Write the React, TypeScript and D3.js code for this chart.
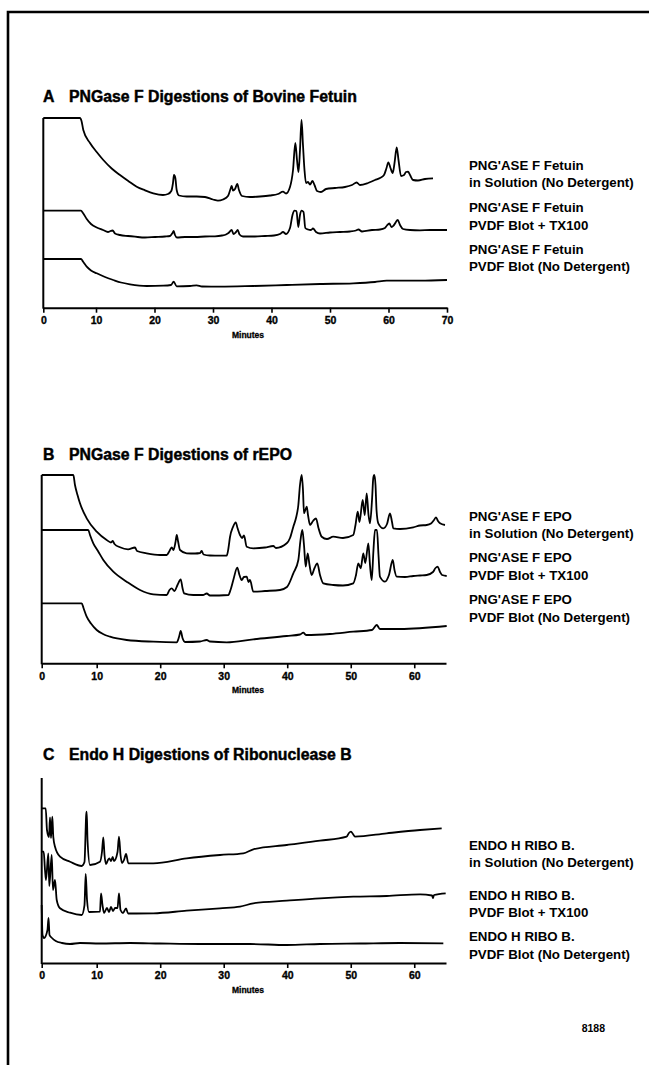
import { useEffect, useRef } from "react";
import * as d3 from "d3";

type Pt = [number, number];

// [minutes, detector response]
const fetuinSolution: Pt[] = [
  [0,189.7],[6.96,189.7],[7.25,186.7],[7.59,177.7],[8.86,164.7],[10.12,155.7],[11.25,147.7],[12.68,139.2],[14.1,132.7],
  [15.52,126.7],[16.96,121],[18.38,117.4],[19.8,114.4],[21.45,112.7],[22.31,113.7],[22.87,116.7],[23.16,124.7],[23.33,132.7],
  [23.56,129.7],[23.79,117.7],[24.19,112.2],[25.5,111.2],[27.21,111.2],[28.63,110.7],[30,108.2],[30.85,107],[31.71,108.2],
  [32.56,111.7],[32.99,118.7],[33.2,121.7],[33.42,117.2],[33.76,118.7],[34.15,123.7],[34.44,117.7],[34.96,111.7],[36.32,110.7],
  [38.03,111.2],[39.74,112.2],[41.11,113.7],[41.97,116],[42.48,114.2],[43.16,120.7],[43.68,137.7],[44.07,164.7],[44.36,147.7],
  [44.62,135.7],[44.87,157.7],[45.13,187.7],[45.38,162.7],[45.64,137.7],[45.9,124.7],[46.24,125.7],[46.58,123.2],[47.01,126.7],
  [47.35,122.7],[47.78,116.7],[48.46,115.7],[49.32,118.7],[50.85,119.7],[52.56,120.7],[53.76,122.7],[54.56,125.2],[55.13,122.7],
  [56.5,124.7],[57.69,127.7],[58.55,129.7],[59.23,132.7],[59.66,139.7],[59.97,145.4],[60.34,139.7],[60.72,134.7],[61.03,144.7],
  [61.4,160.4],[61.71,147.7],[62.14,131.7],[62.65,132.7],[62.99,135.7],[63.33,136],[63.68,132.7],[64.19,127.7],[65.04,127.2],
  [66.24,128.7],[67.61,129.4],
];
const fetuinTX100: Pt[] = [
  [0,97],[7.15,97],[7.53,94.7],[8.24,88.7],[9.05,83.7],[10.12,80.2],[11.2,77.7],[12.05,75.7],[12.48,76.7],[12.85,77.2],
  [13.25,74.2],[14.1,72.7],[15.47,71.7],[16.67,71],[18.38,70.2],[20.09,70.7],[21.79,71.2],[22.65,71.7],[23.08,74.7],[23.28,76.7],
  [23.5,72.7],[23.85,70.2],[25.21,70.7],[26.92,70.7],[28.63,71.2],[30.34,71.4],[31.54,72.2],[32.22,73.2],[32.65,74.7],[33.2,77.7],
  [33.5,73.7],[33.93,75.7],[34.22,77.7],[34.53,73.2],[35.13,71.2],[37.18,71.2],[38.89,71.7],[40.43,72.2],[41.45,73.7],[41.97,75.7],
  [42.48,73.7],[43.16,79.7],[43.59,92.7],[43.93,97],[44.27,96.7],[44.58,80.7],[44.87,92.7],[45.16,97],[45.47,95.7],[45.78,79.7],
  [46.24,78.2],[46.75,77.7],[47.09,79.2],[47.61,75.7],[48.29,74.2],[50,75.2],[51.71,75.7],[53.42,76.2],[54.44,77.2],[54.87,78.2],
  [55.47,76.2],[57.18,77.7],[58.55,78.2],[59.4,79.7],[59.74,82.2],[60.14,84.2],[60.51,80.7],[60.94,82.7],[61.57,87.7],[61.97,82.7],
  [62.48,78.7],[63.68,77.7],[65.38,77.4],[67.09,77.7],[70,77.7],
];
const fetuinBlot: Pt[] = [
  [0,48.7],[7.15,48.7],[7.53,46.2],[8.24,41],[9.05,37.2],[10.12,34.4],[11.54,30.7],[12.96,27.7],[14.27,25.2],[15.81,23.4],
  [18.67,21.7],[21.51,22],[22.82,22.7],[23.28,26],[23.79,21.4],[26.07,21.7],[27.21,22.4],[28.12,21.2],[31.2,21],[36.9,21.7],
  [42.6,22.7],[48.29,23.7],[53.98,24.4],[57.69,25.7],[59.69,27],[65.38,27],[70,27.7],
];

const epoSolution: Pt[] = [
  [0,188.3],[5.75,188.3],[6.05,178.3],[6.51,168.3],[6.96,160],[8.18,145],[10,131.6],[11.57,123.3],[12.25,120.8],[12.52,122.3],
  [12.8,119.3],[13.67,116],[14.93,114],[16.03,115.8],[16.35,112.3],[17.87,110],[19.97,108.3],[21.02,108.3],[21.46,112.3],
  [21.81,116],[22.09,113.3],[22.41,121.3],[22.6,128.3],[22.8,122.3],[23.12,113.3],[24.17,110],[25.48,109.8],[26.27,110.3],
  [26.53,112.3],[26.82,108.8],[27.84,107.8],[29.41,107.6],[30.47,107.6],[30.75,115.3],[30.99,126.3],[31.46,136.3],[31.89,141],
  [32.17,135.3],[32.56,128.3],[32.88,125.3],[33.19,127.8],[33.62,116.6],[34.66,115],[36.5,115.8],[37.81,117.3],[38.23,115.3],
  [39.92,120],[40.44,125.3],[40.96,136.6],[41.38,145.3],[41.75,158.3],[42.01,178.3],[42.28,188.3],[42.48,173.3],[42.64,150],
  [42.85,153.3],[43.07,156.6],[43.27,148.3],[43.59,138.3],[44.06,142.3],[44.53,145],[44.92,135.3],[45.43,126.6],[46.26,124.3],
  [47.25,126.6],[48.78,125.3],[50.4,128.3],[50.75,138.3],[51.1,151.6],[51.38,141.3],[51.88,163.3],[52.2,148.3],[52.51,170],
  [52.8,148.3],[53.03,140],[53.35,163.3],[53.55,185.3],[53.71,188.3],[53.9,178.3],[54.06,153.3],[54.34,140],[55.13,135],
  [55.71,139.3],[56.18,150],[56.5,141.3],[56.7,135],[57.76,134.3],[59.85,136],[60.91,137.8],[61.96,138.3],[62.64,139.8],
  [63.11,143.3],[63.43,146],[63.74,142.3],[64.06,140],[64.84,138.3],
];
const epoTX100: Pt[] = [
  [0,133.3],[8.47,133.3],[8.78,128.3],[9.38,120],[10.2,112.3],[11.04,103.3],[12.61,91.6],[14.72,81.6],[16.82,73.3],[18.91,69],
  [21.02,68.3],[21.46,73.3],[21.81,75],[22.25,72.3],[22.72,78.3],[23.23,84],[23.51,75.3],[23.75,70],[25.21,68.3],[26.74,68.3],
  [27.32,69.8],[27.84,67.8],[30.72,68.3],[31.07,73.3],[31.51,83.3],[32.14,95.6],[32.48,88.3],[32.83,83.3],[33.19,86.3],
  [33.62,86.6],[33.9,81.3],[34.14,83.3],[34.66,71.6],[36.5,72.3],[38.86,73.3],[39.96,76.3],[40.96,90],[41.75,103.3],[42.09,123.3],
  [42.38,133.3],[42.64,118.3],[42.91,96.6],[43.22,110],[43.51,98.3],[43.85,88.3],[44.3,95.3],[44.73,100],[45.16,88.3],[45.68,80],
  [47.25,78.3],[48.78,77.8],[50.4,80],[50.83,88.3],[51.19,100],[51.57,95],[51.98,110],[52.29,100.3],[52.77,120],[53.03,98.3],
  [53.3,83.3],[53.58,113.3],[53.82,133.3],[54.13,133.3],[54.37,108.3],[54.6,86.6],[55.39,81.6],[56.02,88.3],[56.61,103.3],
  [56.89,93.3],[57.24,86.6],[58.55,86.3],[59.85,87.3],[60.91,87.8],[61.96,88.3],[62.95,91.3],[63.35,95.3],[63.69,96.6],
  [64.06,91.3],[64.37,88.3],[65.11,87.3],
];
const epoBlot: Pt[] = [
  [0,60],[7.27,60],[7.6,55.3],[8.18,46.6],[8.96,39.8],[10,33.3],[10.99,29.3],[12.09,26.6],[14.72,23.3],[18.91,21.6],[22.6,21],
  [22.96,26.3],[23.23,32.3],[23.51,25.3],[23.9,21.3],[26.27,21.8],[27.32,23.3],[27.84,21.8],[30.47,21],[34.66,24],[39.92,27.3],
  [42.01,28.8],[42.53,30.6],[42.96,28.3],[46.73,29.3],[50.4,31.6],[53.35,33.3],[54.09,38.3],[54.6,34.3],[57.76,34.3],[65.11,37.3],
];

const riboSolution: Pt[] = [
  [0,154.7],[0.73,154.7],[0.96,133],[1.33,126],[1.51,145.7],[1.69,125],[1.93,146.3],[2.11,126],[2.42,116.3],[3.33,106.3],
  [5.15,101.3],[7.27,97],[7.78,101],[8.09,148],[8.18,151.3],[8.33,123],[8.78,98],[10.52,101.3],[10.83,111],[11.04,125.7],
  [11.23,108],[11.46,99],[11.78,103],[11.98,104.7],[12.25,102],[12.52,106],[12.72,102],[13.28,111],[13.51,126.3],[13.75,108],
  [13.99,100],[14.3,103],[14.62,109],[14.98,99.7],[18.91,99.7],[24.17,104.7],[29.41,108],[33.08,109.7],[34.66,113.7],
  [39.92,118],[45.16,122.3],[49.36,126.3],[49.72,130],[50.04,131.3],[50.35,129],[50.67,126.3],[55.66,129.7],[60.91,133],
  [64.32,134.7],
];
const riboTX100: Pt[] = [
  [0,111.3],[0.36,111.3],[0.6,93],[0.78,83],[1.2,109.7],[1.38,77],[1.82,108],[2.05,73],[2.42,83],[2.73,63],[3.33,54.7],
  [5.15,50.3],[7.27,48],[7.78,58],[8,89],[8.24,63],[8.6,51],[10.52,51.3],[10.68,69.7],[10.91,58],[11.15,50],[11.62,55],
  [11.94,51],[12.25,56],[12.57,52],[12.89,55],[13.28,55],[13.51,69.7],[13.75,53],[14.14,50],[14.62,54.7],[14.93,49.5],
  [18.91,49.7],[24.17,52.3],[29.41,54.7],[32.56,56.3],[34.66,59.7],[39.92,62.3],[45.16,64.7],[50.4,66.3],[55.66,67],
  [60.91,68.7],[62.8,67.5],[62.95,65],[63.11,68],[64.95,69.7],
];
const riboBlot: Pt[] = [
  [0,58],[0.15,28],[0.42,25],[1.05,33],[1.24,45],[1.42,28],[1.87,25],[2.56,22],[3.69,20],[5.15,19],[6.96,20],[10.52,19.5],
  [15.24,20],[19.97,19.5],[26.27,19],[34.14,19],[39.92,18],[45.16,19],[51.46,19.5],[57.76,20],[64.58,19.7],
];

const FETUIN_TICKS = [0, 10, 20, 30, 40, 50, 60, 70];
const EPO_TICKS = [0, 10, 20, 30, 40, 50, 60];
const RIBO_TICKS = [0, 10, 20, 30, 40, 50, 60];

const FETUIN_LABELS = [
  ["PNG'ASE F Fetuin", "in Solution (No Detergent)"],
  ["PNG'ASE F Fetuin", "PVDF Blot + TX100"],
  ["PNG'ASE F Fetuin", "PVDF Blot (No Detergent)"],
];
const EPO_LABELS = [
  ["PNG'ASE F EPO", "in Solution (No Detergent)"],
  ["PNG'ASE F EPO", "PVDF Blot + TX100"],
  ["PNG'ASE F EPO", "PVDF Blot (No Detergent)"],
];
const RIBO_LABELS = [
  ["ENDO H RIBO B.", "in Solution (No Detergent)"],
  ["ENDO H RIBO B.", "PVDF Blot + TX100"],
  ["ENDO H RIBO B.", "PVDF Blot (No Detergent)"],
];

const W = 649, H = 1065;
const FONT = "'Liberation Sans', Arial, Helvetica, sans-serif";

const PANELS = [
  { letter: "A", title: "PNGase F Digestions of Bovine Fetuin", titleY: 102,
    series: [fetuinSolution, fetuinTX100, fetuinBlot], labels: FETUIN_LABELS, labelY: [165, 207.3, 249],
    xDom: [0, 10, 70], xRng: [43.3, 96, 447], baseY: 307.7, topVal: 189.7, ticks: FETUIN_TICKS },
  { letter: "B", title: "PNGase F Digestions of rEPO", titleY: 460,
    series: [epoSolution, epoTX100, epoBlot], labels: EPO_LABELS, labelY: [516, 557.3, 599.3],
    xDom: [0, 10, 65], xRng: [41.7, 96.7, 446], baseY: 663.3, topVal: 188.3, ticks: EPO_TICKS },
  { letter: "C", title: "Endo H Digestions of Ribonuclease B", titleY: 760,
    series: [riboSolution, riboTX100, riboBlot], labels: RIBO_LABELS, labelY: [845, 895, 936.7],
    xDom: [0, 10, 65], xRng: [41.7, 96.7, 446], baseY: 963, topVal: 185, ticks: RIBO_TICKS },
];

export default function App() {
  const ref = useRef<SVGSVGElement>(null);

  useEffect(() => {
    const svg = d3.select(ref.current);
    svg.selectAll("*").remove();
    svg.append("rect").attr("width", W).attr("height", H).attr("fill", "#fff");

    // page frame (left + top rule)
    svg.append("path").attr("d", `M8,${H}V12H${W}`)
      .attr("fill", "none").attr("stroke", "#000").attr("stroke-width", 2.6);

    PANELS.forEach(p => {
      const x = d3.scaleLinear().domain(p.xDom).range(p.xRng);
      const y = d3.scaleLinear().domain([0, 190]).range([p.baseY, p.baseY - 190]);
      const g = svg.append("g");

      // title
      const tt = (tx: number, s: string) => g.append("text")
        .attr("x", tx).attr("y", p.titleY).text(s)
        .attr("font-family", FONT).attr("font-weight", 700).attr("font-size", 15.8)
        .attr("stroke", "#000").attr("stroke-width", 0.45).attr("fill", "#000");
      tt(43, p.letter);
      tt(69, p.title);

      // y axis
      g.append("line").attr("x1", x(0)).attr("x2", x(0))
        .attr("y1", y(p.topVal)).attr("y2", p.baseY + 1)
        .attr("stroke", "#000").attr("stroke-width", 2);

      // x axis
      g.append("g").attr("transform", `translate(0,${p.baseY})`)
        .call(d3.axisBottom(x).tickValues(p.ticks).tickSize(5).tickSizeOuter(0).tickPadding(4).tickFormat(d3.format("d")))
        .call(ax => ax.select(".domain").attr("stroke-width", 2))
        .call(ax => ax.selectAll("line").attr("stroke-width", 1.6))
        .call(ax => ax.selectAll("text").attr("font-family", FONT).attr("font-weight", 700)
          .attr("font-size", 10.5).attr("fill", "#000").attr("stroke", "#000").attr("stroke-width", 0.35));

      g.append("text").attr("x", 248).attr("y", p.baseY + 30).attr("text-anchor", "middle")
        .text("Minutes").attr("font-family", FONT).attr("font-weight", 700).attr("font-size", 8.5)
        .attr("stroke", "#000").attr("stroke-width", 0.3);

      // traces
      const line = d3.line<Pt>().x(d => x(d[0])).y(d => y(d[1])).curve(d3.curveMonotoneX);
      p.series.forEach(s => {
        g.append("path").datum(s).attr("d", line)
          .attr("fill", "none").attr("stroke", "#000").attr("stroke-width", 1.8)
          .attr("stroke-linejoin", "round");
      });

      // trace labels
      p.labels.forEach((pair, i) => {
        pair.forEach((t, j) => {
          g.append("text").attr("x", 469).attr("y", p.labelY[i] + j * 17.7 + 4.7).text(t)
            .attr("font-family", FONT).attr("font-weight", 700).attr("font-size", 13.3).attr("fill", "#000");
        });
      });
    });

    svg.append("text").attr("x", 605).attr("y", 1032).attr("text-anchor", "end").text("8188")
      .attr("font-family", FONT).attr("font-weight", 700).attr("font-size", 10.5);
  }, []);

  return (
    <div style={{ position: "absolute", left: 0, top: 0 }}>
      <svg ref={ref} width={W} height={H} style={{ display: "block" }} />
    </div>
  );
}
